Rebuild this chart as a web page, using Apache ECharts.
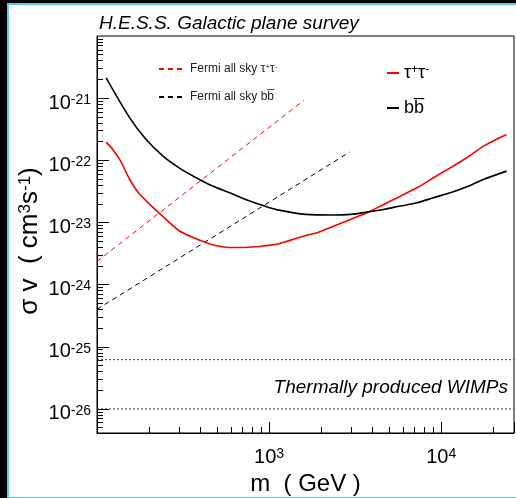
<!DOCTYPE html>
<html>
<head>
<meta charset="utf-8">
<script src="https://cdn.jsdelivr.net/npm/echarts@6/dist/echarts.min.js"></script>
<style>
  html, body { margin: 0; padding: 0; background: #000; overflow: hidden; }
  #frame {
    position: absolute; left: 7px; top: 3px; width: 520px; height: 492px;
    background: #fff;
    border-left: 2px solid #5cc8e0; border-top: 2px solid #5cc8e0; border-bottom: 2px solid #5cc8e0;
  }
  #chart { position: absolute; left: 0; top: 0; width: 516px; height: 498px; }
</style>
</head>
<body>
<div id="frame"></div>
<div id="chart"></div>
<script>
// mass range of the plot (GeV) and sigma v range (cm^3 s^-1)
const massRange = [100, 26500]
const sigmaRange = [4.1e-27, 1e-20]

// decade exponents carrying a major tick on the sigma v axis
const sigmaDecades = [-27, -26, -25, -24, -23, -22, -21, -20]

// H.E.S.S. GPS limit, b bbar channel
const bbMass = [113, 155, 193, 242, 300, 377, 470, 590, 730, 920, 1140, 1630, 2380, 2970, 3710, 4630, 5790, 7230, 9020, 11300, 14100, 17600, 24000]
const bbSigmaV = [2.12e-21, 4.82e-22, 2.16e-22, 1.17e-22, 7.57e-23, 5.24e-23, 3.85e-23, 3.0e-23, 2.34e-23, 1.88e-23, 1.58e-23, 1.35e-23, 1.32e-23, 1.35e-23, 1.47e-23, 1.62e-23, 1.84e-23, 2.07e-23, 2.5e-23, 3.0e-23, 3.75e-23, 4.91e-23, 6.7e-23]

// H.E.S.S. GPS limit, tau+ tau- channel
const tauMass = [113, 124, 138, 154, 176, 207, 242, 300, 377, 470, 590, 730, 920, 1140, 1630, 1910, 2380, 2970, 3710, 4630, 5790, 7230, 9020, 11300, 14100, 17600, 24000]
const tauSigmaV = [1.96e-22, 1.48e-22, 9.46e-23, 5.05e-23, 2.89e-23, 1.85e-23, 1.24e-23, 7.36e-24, 5.47e-24, 4.38e-24, 3.96e-24, 3.96e-24, 4.18e-24, 4.55e-24, 6.18e-24, 6.83e-24, 8.75e-24, 1.12e-23, 1.43e-23, 1.95e-23, 2.65e-23, 3.61e-23, 5.24e-23, 7.57e-23, 1.1e-22, 1.69e-22, 2.6e-22]

// Fermi all sky limits
const fermiTauMass = [100, 1590]
const fermiTauSigmaV = [2.36e-24, 9.2e-22]
const fermiBbMass = [100, 2940]
const fermiBbSigmaV = [4.0e-25, 1.36e-22]

// thermal relic band
const thermalLevels = [6.2e-26, 1e-26]

const FONT = 'Liberation Sans'
const zip = (xs, ys) => xs.map((x, i) => [x, ys[i]])

const legendText = {
  'Fermi all sky tautau': 'Fermi all sky τ{sup|+}τ{sup|-}',
  'Fermi all sky bb': 'Fermi all sky bb\u0305',
  'tautau': 'τ{sup|+}τ{sup|-}',
  'bb': 'bb\u0305'
}

// only label exact decades, skip the one at the plot edge
const expLabel = (v, skip) => {
  const l = Math.log10(v)
  const e = Math.round(l)
  if (Math.abs(l - e) > 1e-6 || e === skip) return ''
  return '10{sup|' + e + '}'
}

// tick positions (in log10 units) for the overlay axes of the sigma v scale
const logMin = Math.log10(sigmaRange[0])
const logMax = Math.log10(sigmaRange[1])
const minorLogTicks = []
sigmaDecades.forEach(e => {
  for (let k = 2; k <= 9; k++) minorLogTicks.push(e + Math.log10(k))
})

const tickAxis = (length, values) => ({
  type: 'value',
  position: 'left',
  offset: 0,
  min: logMin,
  max: logMax,
  splitLine: { show: false },
  axisLine: { show: false },
  axisLabel: { show: false },
  axisTick: {
    show: true, inside: true, length,
    lineStyle: { color: '#000' },
    customValues: values.filter(v => v > logMin && v < logMax)
  }
})

const chart = echarts.init(document.getElementById('chart'), null, { renderer: 'canvas' })

chart.setOption({
  backgroundColor: 'transparent',
  animation: false,
  title: {
    text: 'H.E.S.S. Galactic plane survey',
    left: 94,
    top: 9,
    textStyle: { fontFamily: FONT, fontSize: 19, fontStyle: 'italic', fontWeight: 'normal', color: '#000' }
  },
  grid: {
    left: 97, right: 2, top: 36, bottom: 65,
    show: true, borderColor: '#000', borderWidth: 1,
    outerBoundsMode: 'none'
  },
  legend: [
    {
      data: ['Fermi all sky tautau', 'Fermi all sky bb'],
      orient: 'vertical',
      left: 153, top: 58,
      itemWidth: 26, itemHeight: 10, itemGap: 16,
      selectedMode: false,
      itemStyle: { opacity: 0 },
      formatter: n => legendText[n],
      textStyle: {
        fontFamily: FONT, fontSize: 12, color: '#222',
        rich: { sup: { fontFamily: FONT, fontSize: 8, verticalAlign: 'top', lineHeight: 8 } }
      }
    },
    {
      data: ['tautau', 'bb'],
      orient: 'vertical',
      left: 381, top: 59,
      itemWidth: 12, itemHeight: 10, itemGap: 17,
      selectedMode: false,
      itemStyle: { opacity: 0 },
      formatter: n => legendText[n],
      textStyle: {
        fontFamily: FONT, fontSize: 18, color: '#000',
        rich: { sup: { fontFamily: FONT, fontSize: 12, verticalAlign: 'top', lineHeight: 12 } }
      }
    }
  ],
  xAxis: {
    type: 'log',
    logBase: 10,
    min: massRange[0],
    max: massRange[1],
    splitLine: { show: false },
    axisLine: { show: true, lineStyle: { color: '#000', width: 1 } },
    name: 'm  ( GeV )',
    nameLocation: 'middle',
    nameGap: 38,
    nameTextStyle: { fontFamily: FONT, fontSize: 24, color: '#000' },
    axisTick: { show: true, inside: true, length: 11, lineStyle: { color: '#000' } },
    minorTick: { show: true, splitNumber: 9, length: 6, lineStyle: { color: '#000' } },
    axisLabel: {
      margin: 14,
      fontFamily: FONT, fontSize: 20, color: '#000',
      formatter: v => expLabel(v, 2),
      rich: { sup: { fontFamily: FONT, fontSize: 14, verticalAlign: 'top', lineHeight: 14 } }
    }
  },
  yAxis: [
    {
      type: 'log',
      logBase: 10,
      min: sigmaRange[0],
      max: sigmaRange[1],
      splitLine: { show: false },
      axisLine: { show: true, lineStyle: { color: '#000', width: 1 } },
      axisTick: { show: false },
      axisLabel: {
        margin: 6,
        padding: [10, 0, 0, 0],
        fontFamily: FONT, fontSize: 20, color: '#000',
        formatter: v => expLabel(v, -20),
        rich: { sup: { fontFamily: FONT, fontSize: 14, verticalAlign: 'top', lineHeight: 14 } }
      }
    },
    tickAxis(12, sigmaDecades),
    tickAxis(6, minorLogTicks)
  ],
  graphic: [
    {
      type: 'text',
      x: 30,
      y: 241,
      rotation: Math.PI / 2,
      style: {
        text: 'σ v  ( cm{sup|3}s{sup|-1})',
        font: '26px "Liberation Sans"',
        fill: '#000',
        align: 'center',
        verticalAlign: 'middle',
        rich: { sup: { font: '17px "Liberation Sans"', fill: '#000', verticalAlign: 'top', lineHeight: 17 } }
      }
    },
    {
      type: 'text',
      right: 8,
      top: 378,
      style: { text: 'Thermally produced WIMPs', font: 'italic 19px "Liberation Sans"', fill: '#000' }
    }
  ],
  series: [
    {
      name: 'Fermi all sky tautau', type: 'line', symbol: 'none',
      data: zip(fermiTauMass, fermiTauSigmaV),
      color: '#ff0000',
      lineStyle: { color: '#ff0000', width: 1, type: [5, 4] }
    },
    {
      name: 'Fermi all sky bb', type: 'line', symbol: 'none',
      data: zip(fermiBbMass, fermiBbSigmaV),
      color: '#000',
      lineStyle: { color: '#000', width: 1, type: [5, 4] }
    },
    {
      name: 'tautau', type: 'line', symbol: 'none', smooth: 0.2,
      data: zip(tauMass, tauSigmaV),
      color: '#ff0000',
      lineStyle: { color: '#ff0000', width: 1.6 }
    },
    {
      name: 'bb', type: 'line', symbol: 'none', smooth: 0.3,
      data: zip(bbMass, bbSigmaV),
      color: '#000',
      lineStyle: { color: '#000', width: 1.6 }
    },
    ...thermalLevels.map(v => ({
      name: 'thermal', type: 'line', symbol: 'none',
      data: [[massRange[0], v], [massRange[1], v]],
      lineStyle: { color: '#333', width: 1, type: [2, 2] }
    }))
  ]
})
</script>
</body>
</html>
